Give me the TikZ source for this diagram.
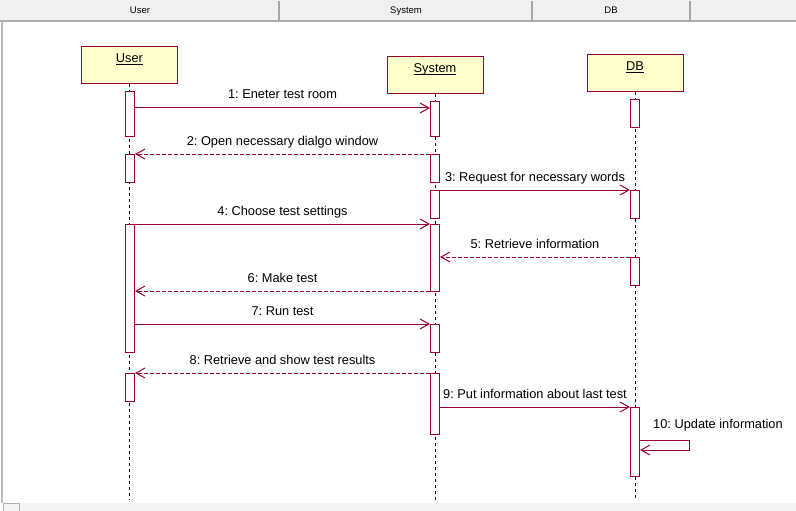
\documentclass[tikz,border=0pt]{standalone}
\usepackage{fontspec}
\setmainfont{Liberation Sans}
\usetikzlibrary{arrows.meta}
\definecolor{umlRed}{RGB}{153,0,51}
\definecolor{umlYellow}{RGB}{255,255,204}
\definecolor{paneGray}{RGB}{240,240,240}
\frenchspacing

\begin{document}
\begin{tikzpicture}
[x=1pt,y=-1pt,
  lifeHead/.style={shape=rectangle,draw=umlRed,fill=umlYellow,line width=1pt,%
    minimum width=96pt,inner sep=3pt,text height=13pt,text depth=18pt,%
    font=\fontsize{12.8}{15}\selectfont},%
  lifeLine/.style={draw=black,line width=0.9pt,dash pattern=on 3pt off 3pt},%
  actBar/.style={shape=rectangle,draw=umlRed,fill=white,line width=1pt,%
    minimum width=9pt,inner sep=0pt,anchor=north},%
  callArrow/.style={-{Straight Barb[length=9pt,width=10pt]},draw=umlRed,line width=1pt},%
  returnArrow/.style={callArrow,dash pattern=on 4pt off 2pt},%
  msgLabel/.style={font=\fontsize{12.8}{15}\selectfont,anchor=base,yshift=9pt,inner sep=0pt},%
  paneText/.style={font=\fontsize{9.5}{11}\selectfont,anchor=base,inner sep=0pt}]
\useasboundingbox (0,0) rectangle (796,511);
%% window frame
\fill[paneGray] (0,0) rectangle (796,20);
\foreach \colname/\x/\lbl in {hUser/140/User, hSystem/406/System, hDB/611/DB}
{
  \node[paneText] (\colname) at (\x,14) {\lbl};
}
\foreach \x in {279,532,690}
{
  \draw[gray!70,line width=1.5pt] (\x,1) -- (\x,20);
}
\draw[gray!65,line width=2pt] (0,21) -- (796,21);
\draw[gray!55,line width=1.5pt] (2,21) -- (2,503);
\fill[gray!8] (4,503) rectangle (796,511);
\draw[gray!60] (3,511) -- (3,503) -- (19,503) -- (19,511);
%% lifelines
\foreach \nodename/\x/\y/\lbl in {user/129.5/65.5/User, system/435/75.5/System, db/635/73.5/DB}
{
  \node[lifeHead] (\nodename) at (\x,\y) {\underline{\raisebox{0pt}[\height][0pt]{\lbl}}};
  \coordinate (\nodename end) at (\x,500);
  \draw[lifeLine] (\nodename.south) -- (\nodename end);
}
%% activation bars
\foreach \nodename/\x/\ya/\yb in {ua1/130/91/136, ua2/130/154/182, ua3/130/224/352,
  ua4/130/373/401, sa1/435/101/136, sa2/435/154/182, sa3/435/190/218,
  sa4/435/224/291, sa5/435/324/352, sa6/435/373/434, da1/635/99/127,
  da2/635/190/218, da3/635/257/285, da4/635/407/476}
{
  \node[actBar,minimum height={(\yb-\ya)*1pt}] (\nodename) at (\x,\ya) {};
}
%% calls
\foreach \startnode/\endnode/\y/\lbl in {ua1.east/sa1.west/108/1: Eneter test room,
  sa3.east/da2.west/190/3: Request for necessary words,
  ua3.east/sa4.west/224/4: Choose test settings,
  ua3.east/sa5.west/324/7: Run test,
  sa6.east/da4.west/407/9: Put information about last test}
{
  \coordinate (m\y) at (0,\y);
  \draw[callArrow] (\startnode |- m\y) -- node[msgLabel] {\lbl} (\endnode |- m\y);
}
%% returns
\foreach \startnode/\endnode/\y/\lbl in {sa2.west/ua2.east/154/2: Open necessary dialgo window,
  da3.west/sa4.east/257/5: Retrieve information,
  sa4.west/ua3.east/291/6: Make test,
  sa6.west/ua4.east/373/8: Retrieve and show test results}
{
  \coordinate (m\y) at (0,\y);
  \draw[returnArrow] (\startnode |- m\y) -- node[msgLabel] {\lbl} (\endnode |- m\y);
}
%% self call
\coordinate (selfTop) at (689,440);
\coordinate (selfBot) at (689,450);
\draw[callArrow] (da4.east |- selfTop) -- (selfTop) -- (selfBot) -- (da4.east |- selfBot);
\node[msgLabel,anchor=base west,yshift=-9pt] (selfLbl) at (653,428) {10: Update information};
\end{tikzpicture}
\end{document}
